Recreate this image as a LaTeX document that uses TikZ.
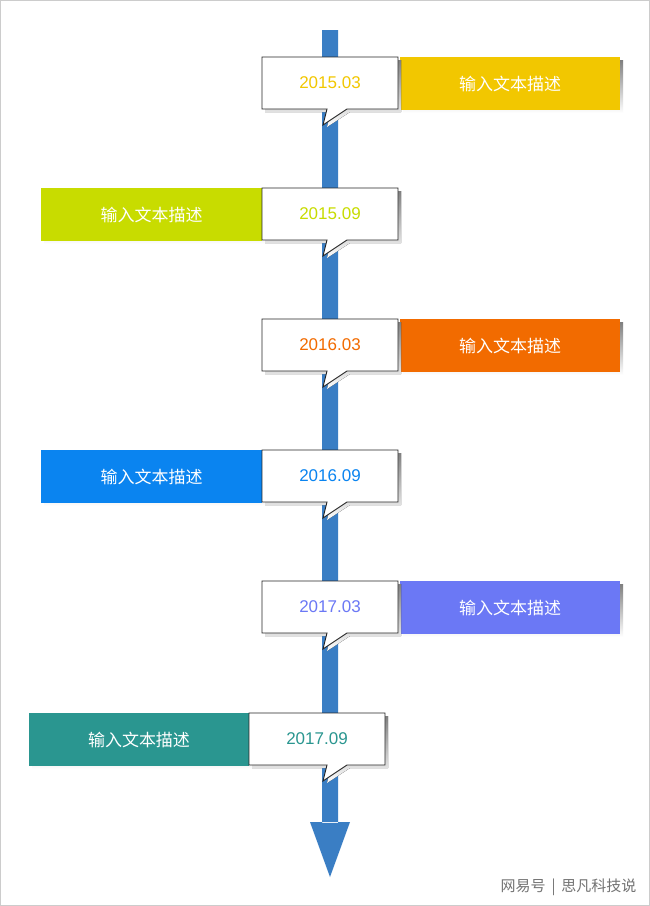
\documentclass[tikz,border=0pt]{standalone}
\usepackage{fontspec}
\setmainfont{Liberation Sans}
\newfontfamily\cjk{Noto Sans CJK SC}
\definecolor{cA}{HTML}{F2C700}\definecolor{cB}{HTML}{C8DC00}\definecolor{cC}{HTML}{F26B00}
\definecolor{cD}{HTML}{0A84F0}\definecolor{cE}{HTML}{6B78F5}\definecolor{cF}{HTML}{2A9690}
\definecolor{axis}{HTML}{3A7EC4}\definecolor{shade}{HTML}{BBBBBB}
\tikzset{desc/.style={inner sep=0pt,text=white,font=\cjk\fontsize{17}{20}\selectfont},
 date/.style={font=\fontsize{17}{20}\selectfont}}
\begin{document}
\begin{tikzpicture}[x=1pt,y=-1pt]
\draw[fill=white,draw=black!20] (0.5,0.5) rectangle (649.5,905.5);
\useasboundingbox (0,0) rectangle (650,906);
\fill[axis] (322,30) rectangle (338,823) (310,822) -- (350,822) -- (330,877) -- cycle;
\newcommand\tlrow[8]{%
 \fill[shade] (#1+3,#5+3) rectangle (#2+3,#5+56);
 \fill[#6] (#1,#5) rectangle (#2,#5+53);
 \node[desc] (#8d) at ({(#1+#2)/2},#5+26.5) {输入文本描述};
 \fill[shade] (#3+3,#5+3) -- (#4+3,#5+3) -- (#4+3,#5+55) -- (350,#5+55) -- (327,#5+70) -- (331,#5+55) -- (#3+3,#5+55) -- cycle;
 \draw[fill=white,draw=black!85,line width=0.9pt] (#3,#5) -- (#4,#5) -- (#4,#5+52) -- (347,#5+52) -- (323,#5+68) -- (327,#5+52) -- (#3,#5+52) -- cycle;
 \node[date,text=#6] (#8t) at ({(#3+#4)/2},#5+26) {#7};}
\tlrow{400}{620}{262}{398}{57}{cA}{2015.03}{a}
\tlrow{41}{262}{262}{398}{188}{cB}{2015.09}{b}
\tlrow{400}{620}{262}{398}{319}{cC}{2016.03}{c}
\tlrow{41}{262}{262}{398}{450}{cD}{2016.09}{d}
\tlrow{400}{620}{262}{398}{581}{cE}{2017.03}{e}
\tlrow{29}{249}{249}{385}{713}{cF}{2017.09}{f}
\node[text=black!55,font=\cjk\fontsize{15}{18}\selectfont,anchor=east] (wm) at (640,887) {网易号 \,|\, 思凡科技说};
\end{tikzpicture}
\end{document}
